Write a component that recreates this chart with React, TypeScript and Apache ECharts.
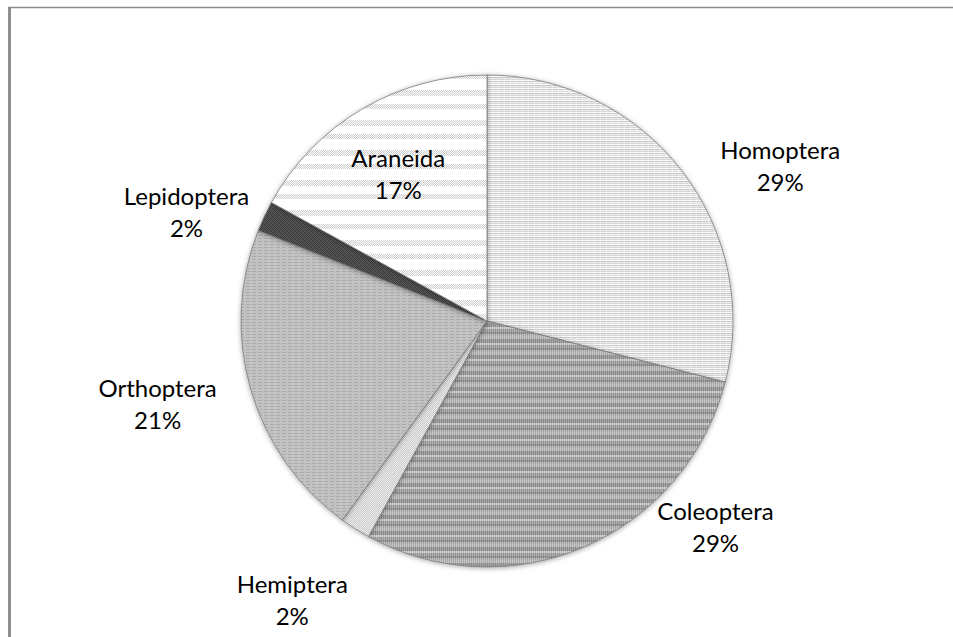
import React, { useEffect, useRef } from "react";
import * as echarts from "echarts";

const categories = ["Homoptera", "Coleoptera", "Hemiptera", "Orthoptera", "Lepidoptera", "Araneida"];
const shares = [29, 29, 2, 21, 2, 17];

// label placement: angle clockwise from 12 o'clock (deg) and distance as a fraction of the radius
const labelAngles = [62, 132, 215, 256, 290, 329];
const labelDistances = [1.35, 1.25, 1.38, 1.38, 1.3, 0.7];

const WIDTH = 953;
const HEIGHT = 637;
const CX = 487;
const CY = 321;
const RADIUS = 246;

type Shade = (x: number, y: number) => number;

function makeTile(w: number, h: number, shade: Shade) {
  const c = document.createElement("canvas");
  c.width = w;
  c.height = h;
  const ctx = c.getContext("2d")!;
  const img = ctx.createImageData(w, h);
  for (let y = 0; y < h; y++) {
    for (let x = 0; x < w; x++) {
      const g = Math.max(0, Math.min(255, Math.round(shade(x, y))));
      const k = (y * w + x) * 4;
      img.data[k] = g;
      img.data[k + 1] = g;
      img.data[k + 2] = g;
      img.data[k + 3] = 255;
    }
  }
  ctx.putImageData(img, 0, 0);
  return { image: c.toDataURL(), repeat: "repeat", imageWidth: w, imageHeight: h };
}

// fine horizontal hatching, light
const homopteraRows = [248, 204, 240, 220, 250, 198, 236, 212];
// banded, with a fine vertical grain
const coleopteraRows = [184, 184, 184, 152, 152, 152, 152, 198, 198, 162, 162, 162, 144, 144, 178, 178];
// dotted bands on white
const araneidaRows = [1, 1, 1, 1, 1, 1, 0, 0, 0, 0, 0, 0, 0, 0, 1, 1, 1, 1, 1, 0, 0, 0, 0, 0, 0, 0, 0, 0, 0, 0];

function buildFills() {
  return [
    makeTile(12, 8, (x, y) => homopteraRows[y] + ((x % 6) < 1 && homopteraRows[y] < 230 ? 18 : 0)),
    makeTile(2, 16, (x, y) => coleopteraRows[y] + (x % 2 === 0 ? 14 : -14)),
    makeTile(4, 4, (x, y) => ((x + y) % 2 === 0 ? 238 : 200)),
    makeTile(6, 3, (x, y) => (y === 1 && x < 4 ? 170 : 194)),
    makeTile(4, 4, (x, y) => ((x + y) % 2 === 0 ? 62 : 92) - (x === y ? 10 : 0)),
    makeTile(4, 30, (x, y) => (araneidaRows[y] ? ((x + y) % 2 === 0 ? 255 : 205) : 255)),
  ];
}

export default function App() {
  const ref = useRef<HTMLDivElement>(null);

  useEffect(() => {
    document.body.style.margin = "0";
    if (!ref.current) return;
    const chart = echarts.init(ref.current, undefined, { renderer: "svg" });
    const fills = buildFills();

    chart.setOption({
      animation: false,
      backgroundColor: "#ffffff",
      graphic: [
        { type: "line", shape: { x1: 8, y1: 7.5, x2: WIDTH, y2: 7.5 }, style: { stroke: "#8a8a8a", lineWidth: 1.5 } },
        { type: "line", shape: { x1: 9.5, y1: 7, x2: 9.5, y2: HEIGHT }, style: { stroke: "#8e8e8e", lineWidth: 3 } },
      ],
      series: [
        {
          type: "pie",
          center: [CX, CY],
          radius: RADIUS,
          startAngle: 90,
          clockwise: true,
          avoidLabelOverlap: false,
          data: categories.map((name, i) => ({
            name,
            value: shares[i],
            itemStyle: { color: fills[i] as any },
          })),
          itemStyle: {
            borderColor: "#7a7a7a",
            borderWidth: 0.8,
            shadowBlur: 5,
            shadowColor: "rgba(0,0,0,0.35)",
            shadowOffsetY: 1,
          },
          label: {
            show: true,
            position: "outside",
            formatter: "{b}\n{d}%",
            color: "#000000",
            fontFamily: "Lato",
            fontSize: 24,
            lineHeight: 32,
            align: "center",
          },
          labelLine: { show: false },
          labelLayout: (p: any) => {
            const i = p.dataIndex;
            const a = (labelAngles[i] * Math.PI) / 180;
            const r = RADIUS * labelDistances[i];
            return {
              x: CX + r * Math.sin(a),
              y: CY - r * Math.cos(a),
              align: "center",
              verticalAlign: "middle",
            };
          },
          emphasis: { disabled: true },
        },
      ],
    });

    return () => chart.dispose();
  }, []);

  return <div ref={ref} style={{ width: WIDTH, height: HEIGHT }} />;
}
